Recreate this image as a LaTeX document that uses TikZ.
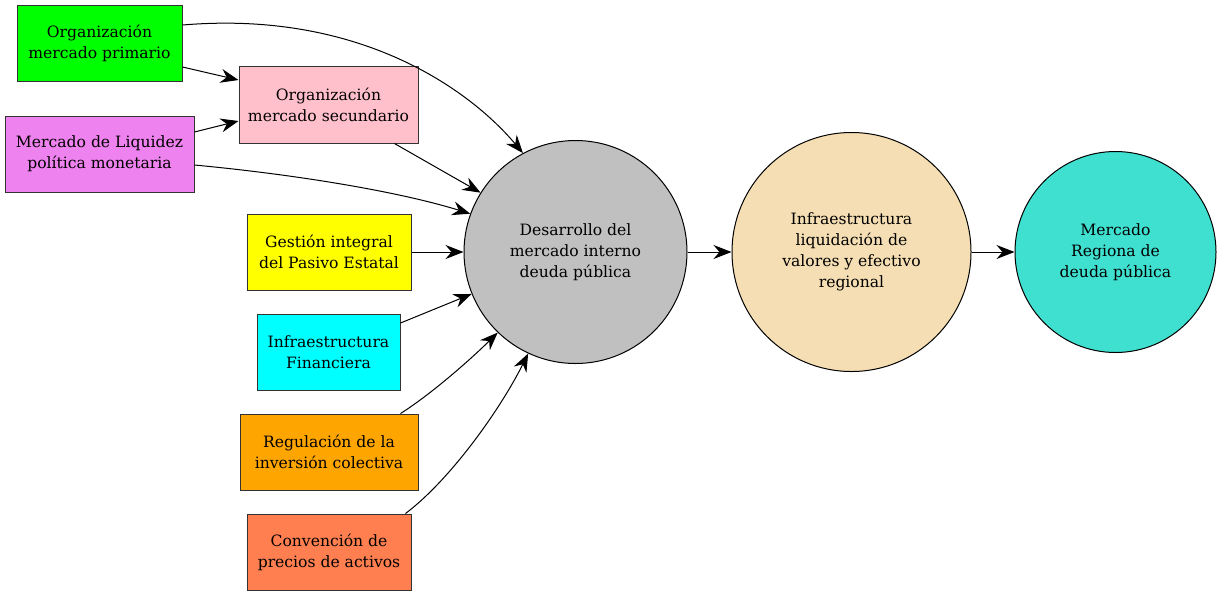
\documentclass[tikz,border=0pt]{standalone}
\usepackage{fontspec}
\setmainfont{DejaVu Serif}
\usetikzlibrary{arrows.meta}
\definecolor{cgreen}{HTML}{00FF00}
\definecolor{cpink}{HTML}{FFC0CB}
\definecolor{cviolet}{HTML}{EE82EE}
\definecolor{cyellow}{HTML}{FFFF00}
\definecolor{ccyan}{HTML}{00FFFF}
\definecolor{corange}{HTML}{FFA500}
\definecolor{ccoral}{HTML}{FF7F50}
\definecolor{cgray}{HTML}{C0C0C0}
\definecolor{cwheat}{HTML}{F5DEB3}
\definecolor{cturq}{HTML}{40E0D0}
\begin{document}
\begin{tikzpicture}[x=0.5pt,y=-0.5pt,
  box/.style={draw=black!80,line width=0.5pt,rectangle,inner sep=0pt,align=center,
    font=\fontsize{7.8}{10.5}\selectfont},
  circ/.style={draw=black,line width=0.5pt,circle,inner sep=0pt,align=center,
    font=\fontsize{7.8}{10.5}\selectfont},
  conn/.style={line width=0.5pt,-{Stealth[length=9pt,width=7pt,inset=3pt]}}]
\useasboundingbox (0,0) rectangle (1221,596);
\node[box,fill=cgreen,minimum width=82.5pt,minimum height=38pt] (A) at (99.5,43) {Organización\\mercado primario};
\node[box,fill=cpink,minimum width=89.5pt,minimum height=38.5pt] (B) at (328.5,104.5) {Organización\\mercado secundario};
\node[box,fill=cviolet,minimum width=94.5pt,minimum height=38pt] (C) at (99.5,154) {Mercado de Liquidez\\política monetaria};
\node[box,fill=cyellow,minimum width=82pt,minimum height=38pt] (D) at (329,252) {Gestión integral\\del Pasivo Estatal};
\node[box,fill=ccyan,minimum width=71.5pt,minimum height=38pt] (E) at (328.5,352) {Infraestructura\\Financiera};
\node[box,fill=corange,minimum width=89pt,minimum height=38pt] (F) at (329,452) {Regulación de la\\inversión colectiva};
\node[box,fill=ccoral,minimum width=82pt,minimum height=38pt] (G) at (329,552) {Convención de\\precios de activos};
\node[circ,fill=cgray,minimum size=111.5pt] (H) at (575.5,252) {Desarrollo del\\mercado interno\\deuda pública};
\node[circ,fill=cwheat,minimum size=119.5pt] (I) at (851.5,252) {Infraestructura\\liquidación de\\valores y efectivo\\regional};
\node[circ,fill=cturq,minimum size=100.5pt] (J) at (1115.5,252) {Mercado\\Regiona de\\deuda pública};
\draw[conn] (A.east |- 0,25) .. controls (360,10) and (470,90) .. (H.118);
\draw[conn] (A.east |- 0,67) -- (B.west |- 0,80);
\draw[conn] (C.east |- 0,132) -- (B.west |- 0,121);
\draw[conn] (B.south east) ++(-24,0) -- (H.148);
\draw[conn] (C.east |- 0,165) .. controls (300,175) and (400,192) .. (H.160);
\draw[conn] (D) -- (H);
\draw[conn] (E.east |- 0,323) -- (H.202);
\draw[conn] (F.north east) ++(-18,0) .. controls (430,395) and (470,360) .. (H.226);
\draw[conn] (G.north east) ++(-6,0) .. controls (450,480) and (500,410) .. (H.245);
\draw[conn] (H) -- (I);
\draw[conn] (I) -- (J);
\end{tikzpicture}
\end{document}
